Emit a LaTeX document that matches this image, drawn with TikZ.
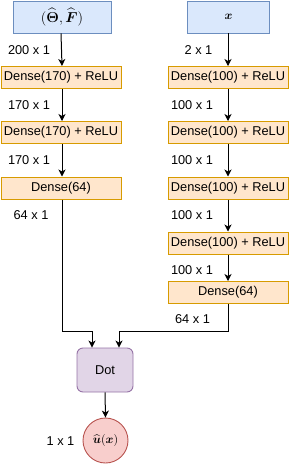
\documentclass[tikz,border=0pt]{standalone}
\usepackage{amsmath}
\usepackage{fontspec}
\setmainfont{Liberation Sans}
\usetikzlibrary{arrows.meta,positioning,calc}
\definecolor{inbg}{HTML}{DAE8FC}
\definecolor{inline}{HTML}{6C8EBF}
\definecolor{laybg}{HTML}{FFE6CC}
\definecolor{layline}{HTML}{D79B00}
\definecolor{dotbg}{HTML}{E1D5E7}
\definecolor{dotline}{HTML}{9673A6}
\definecolor{outbg}{HTML}{F8CECC}
\definecolor{outline}{HTML}{B85450}
\newcommand{\netfont}{\fontsize{12.8}{15}\selectfont}
\tikzset{
  inbox/.style={draw=inline, fill=inbg, line width=0.9pt, minimum height=32pt,
                inner sep=0pt, align=center},
  laybox/.style={draw=layline, fill=laybg, line width=1pt, minimum width=120pt,
                 minimum height=22pt, inner sep=0pt, font=\netfont},
  dotbox/.style={draw=dotline, fill=dotbg, line width=0.9pt, rounded corners=6pt,
                 minimum width=56pt, minimum height=44pt, font=\netfont},
  outcirc/.style={circle, draw=outline, fill=outbg, line width=0.9pt,
                  minimum size=45pt, inner sep=0pt},
  dimlab/.style={font=\netfont, inner sep=0pt},
  arr/.style={-{Stealth[length=7pt,width=7pt,inset=2pt]}, line width=1pt, color=black}}

\begin{document}
\begin{tikzpicture}[x=1pt,y=1pt]
  \useasboundingbox (0,0) rectangle (291,-464);
  % inputs
  \node[inbox, minimum width=98pt, font=\Large] (inL) at (62,-17)
    {$(\widehat{\boldsymbol{\Theta}},\widehat{\boldsymbol{F}})$};
  \node[inbox, minimum width=82pt, font=\large] (inR) at (228.5,-17) {$\boldsymbol{x}$};
  % left branch
  \node[laybox] (l1) at (61,-77.5)  {Dense(170) + ReLU};
  \node[laybox] (l2) at (61,-132.5) {Dense(170) + ReLU};
  \node[laybox] (l3) at (61,-188)   {Dense(64)};
  % right branch
  \node[laybox] (r1) at (228,-77.5)  {Dense(100) + ReLU};
  \node[laybox] (r2) at (228,-132.5) {Dense(100) + ReLU};
  \node[laybox] (r3) at (228,-188)   {Dense(100) + ReLU};
  \node[laybox] (r4) at (228,-243)   {Dense(100) + ReLU};
  \node[laybox] (r5) at (228,-292.5) {Dense(64)};
  % merge and output
  \node[dotbox] (dot) at (105,-370) {Dot};
  \node[outcirc, font=\large] (out) at (105.5,-440.5)
    {$\widehat{\boldsymbol{u}}(\boldsymbol{x})$};
  \coordinate (join) at (0,-331);
  \coordinate (dotinL) at ([xshift=-13pt]dot.north);
  \coordinate (dotinR) at ([xshift=14pt]dot.north);

  \draw[arr] (inL.south -| l1) -- (l1.north -| inL);
  \draw[arr] (l1.south -| inL) -- (l2.north -| inL);
  \draw[arr] (l2.south -| inL) -- (l3.north -| inL);
  \draw[arr] (l3.south -| inL) -- (join -| inL) -| (dotinL);
  \draw[arr] (inR.south -| r1) -- (r1.north);
  \draw[arr] (r1.south) -- (r2.north);
  \draw[arr] (r2.south) -- (r3.north);
  \draw[arr] (r3.south) -- (r4.north);
  \draw[arr] (r4.south) -- (r5.north);
  \draw[arr] (r5.south) -- (join -| r5) -| (dotinR);
  \draw[arr] (dot.south) -- (out.north);

  % dimension labels
  \node[dimlab] (s1) at (29,-50)   {200 x 1};
  \node[dimlab] (s2) at (29,-105)  {170 x 1};
  \node[dimlab] (s3) at (29,-160)  {170 x 1};
  \node[dimlab] (s4) at (31,-215)  {64 x 1};
  \node[dimlab] (t1) at (198.5,-50) {2 x 1};
  \node[dimlab] (t2) at (192,-105) {100 x 1};
  \node[dimlab] (t3) at (192,-160) {100 x 1};
  \node[dimlab] (t4) at (192,-215) {100 x 1};
  \node[dimlab] (t5) at (192,-270) {100 x 1};
  \node[dimlab] (t6) at (192.5,-319) {64 x 1};
  \node[dimlab] (o1) at (60.5,-441) {1 x 1};
\end{tikzpicture}
\end{document}
